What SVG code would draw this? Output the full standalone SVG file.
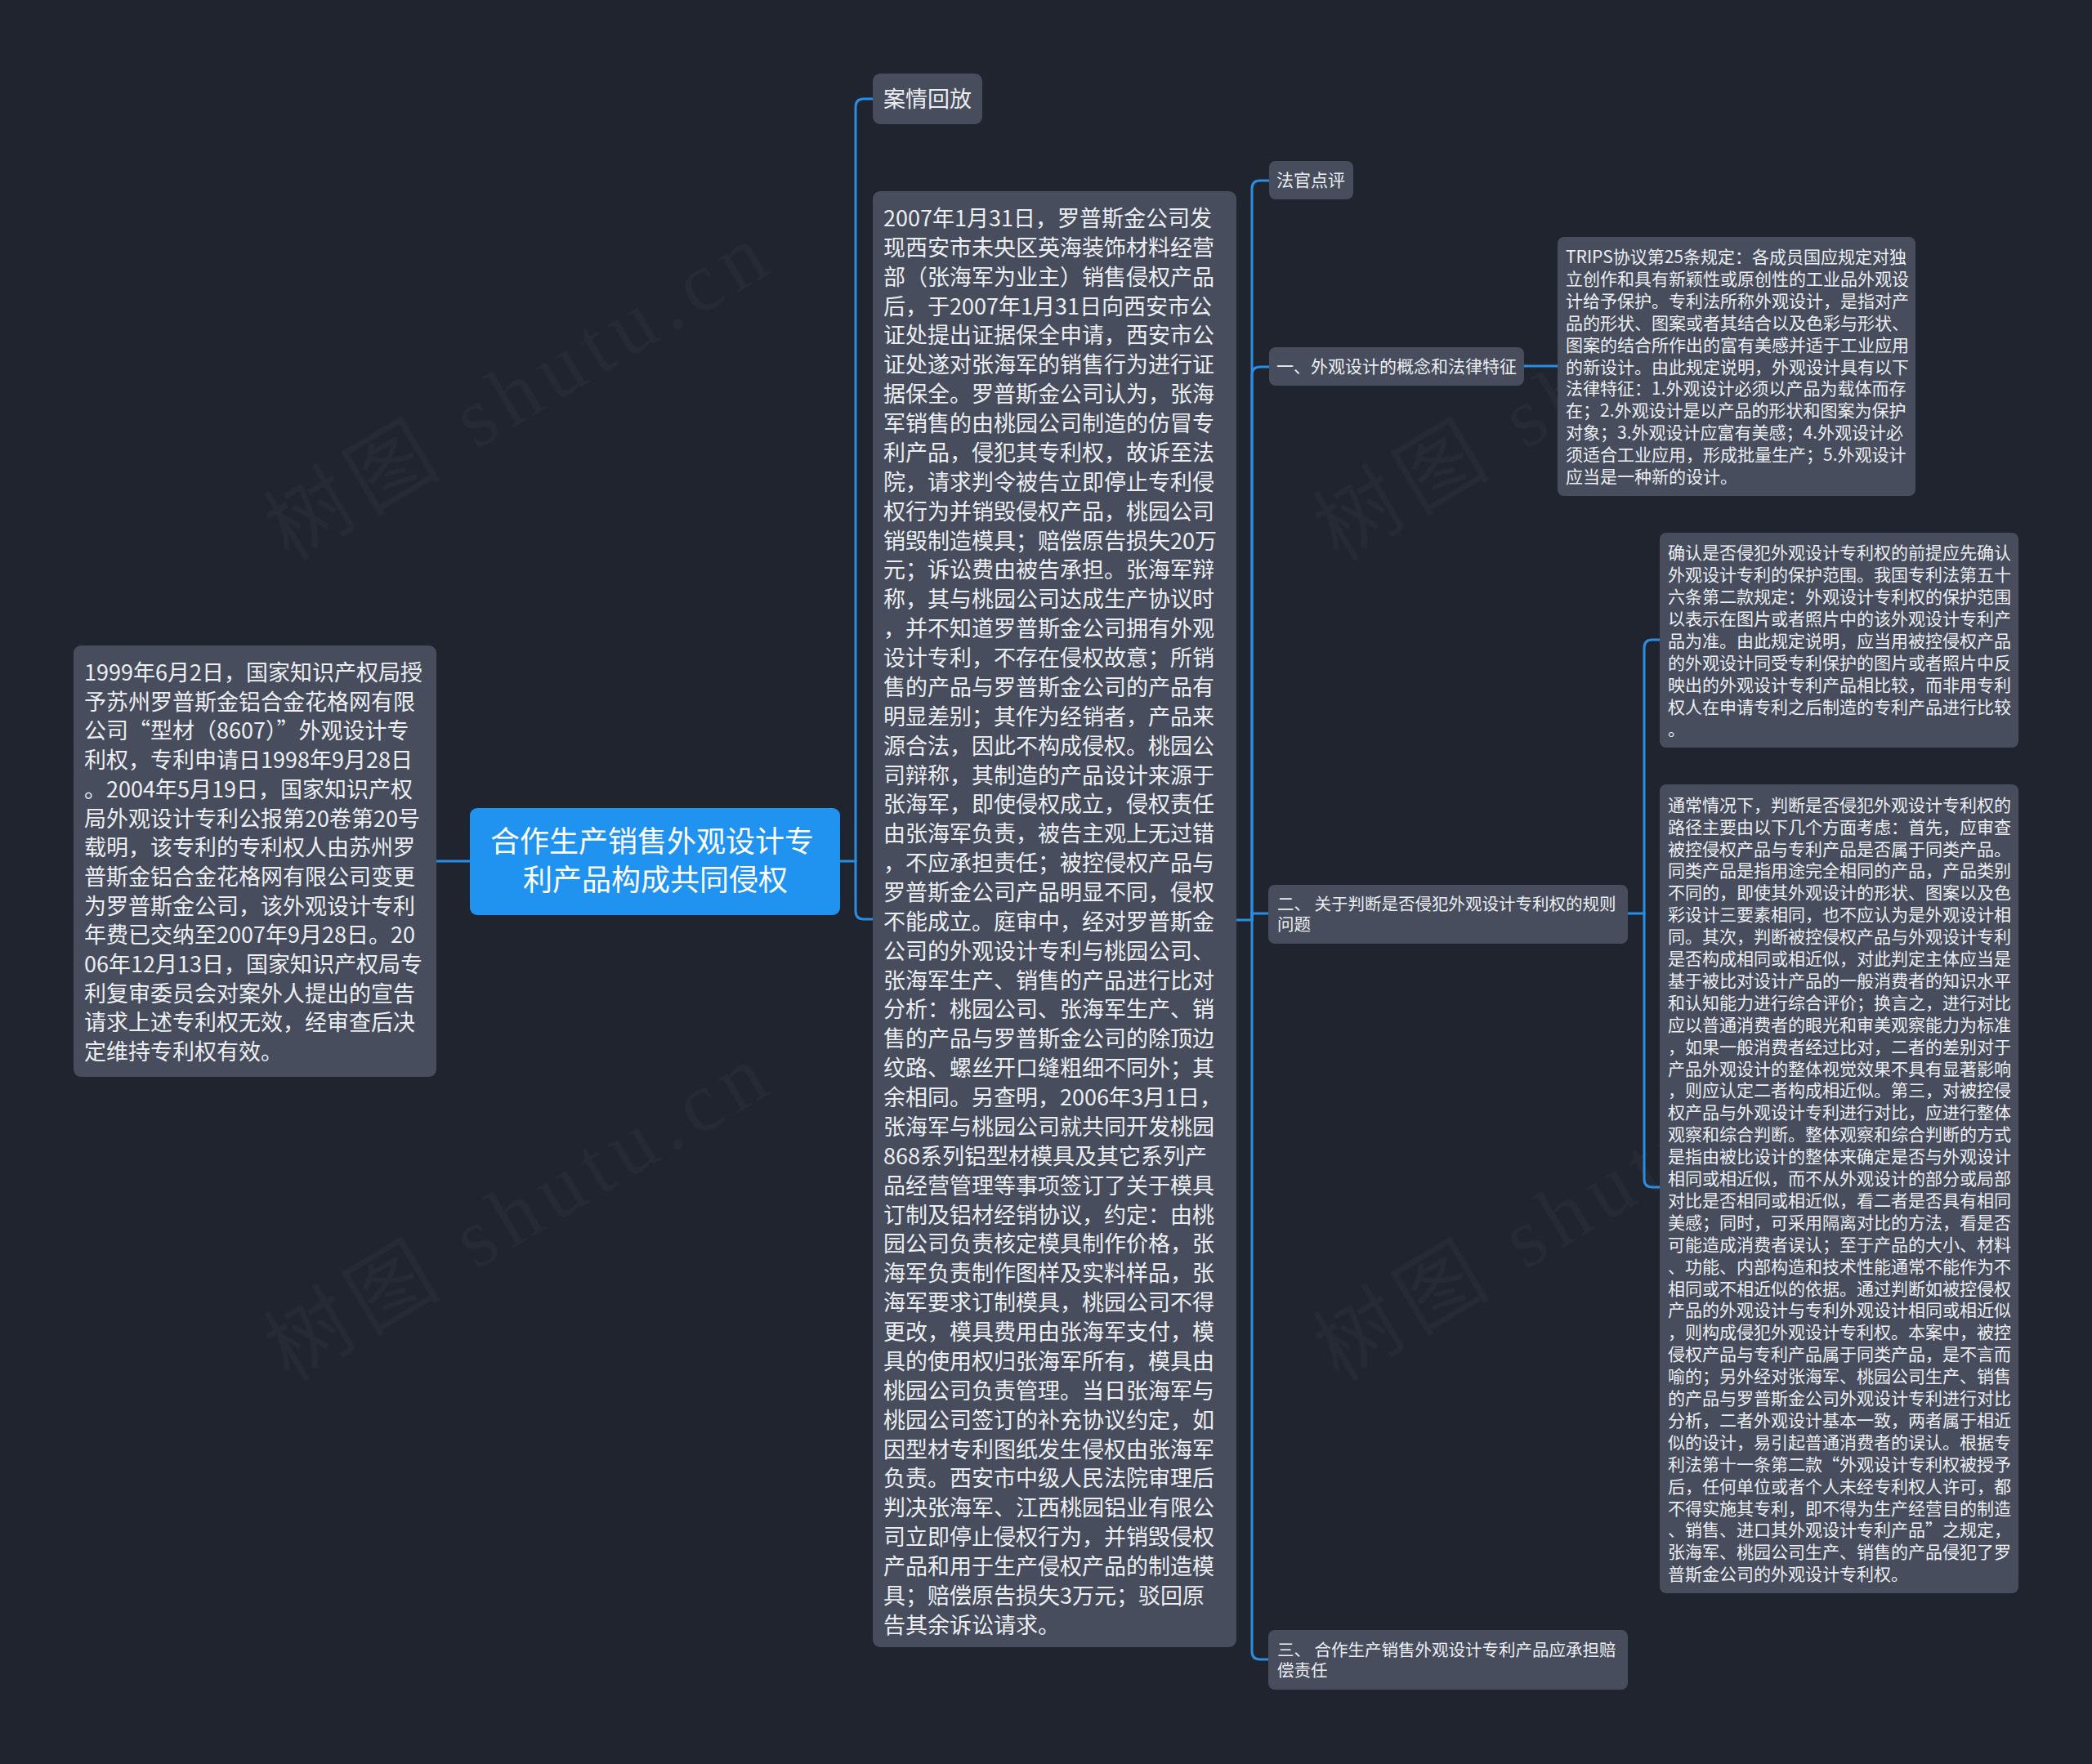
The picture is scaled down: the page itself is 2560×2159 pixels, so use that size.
<svg xmlns="http://www.w3.org/2000/svg" width="2560" height="2159" viewBox="0 0 2560 2159">
<style>
.bg{fill:#20242f}
.node{fill:#474d5c}
.root{fill:#1f93ef}
.t{font-family:"Noto Sans CJK SC","Noto Sans",sans-serif;fill:#eceef2}
.t27{font-size:27px}
.t21{font-size:21px}
.t20{font-size:20.5px}
.rt{font-family:"Noto Sans CJK SC","Noto Sans",sans-serif;fill:#ffffff;font-size:36px}
.wm{font-family:"Liberation Serif","Noto Sans CJK SC",serif;font-size:104px;fill:#ffffff;fill-opacity:0.028}
.c{fill:none;stroke:#2b8de2;stroke-width:3;stroke-linecap:round}
</style>
<rect class="bg" x="0" y="0" width="2560" height="2159"/>
<g id="watermark">
<text class="wm" transform="translate(354 688) rotate(-31)" textLength="690">树图 shutu.cn</text>
<text class="wm" transform="translate(354 1692) rotate(-31)" textLength="690">树图 shutu.cn</text>
<text class="wm" transform="translate(1638 688) rotate(-31)" textLength="690">树图 shutu.cn</text>
<text class="wm" transform="translate(1638 1692) rotate(-31)" textLength="690">树图 shutu.cn</text>
</g>
<g id="connectors">
<path class="c" d="M534 1054 H575"/>
<path class="c" d="M1028 1054 H1047"/>
<path class="c" d="M1047 1054 V131 Q1047 121 1057 121 H1068"/>
<path class="c" d="M1047 1054 V1115 Q1047 1125 1057 1125 H1068"/>
<path class="c" d="M1513 1126 H1532"/>
<path class="c" d="M1532 1126 V231 Q1532 221 1542 221 H1553"/>
<path class="c" d="M1532 1126 V459 Q1532 449 1542 449 H1553"/>
<path class="c" d="M1532 1126 V1118 H1552"/>
<path class="c" d="M1532 1126 V2021 Q1532 2031 1542 2031 H1552"/>
<path class="c" d="M1865 448 H1906"/>
<path class="c" d="M1992 1118 H2012"/>
<path class="c" d="M2012 1118 V793 Q2012 783 2022 783 H2031"/>
<path class="c" d="M2012 1118 V1443 Q2012 1453 2022 1453 H2031"/>
</g>
<g id="n-left">
<rect class="node" x="90" y="790" width="444" height="528" rx="9"/>
<text class="t t27">
<tspan x="103" y="833">1999年6月2日，国家知识产权局授</tspan>
<tspan x="103" y="868.7">予苏州罗普斯金铝合金花格网有限</tspan>
<tspan x="103" y="904.4">公司“型材（8607）”外观设计专</tspan>
<tspan x="103" y="940.1">利权，专利申请日1998年9月28日</tspan>
<tspan x="103" y="975.8">。2004年5月19日，国家知识产权</tspan>
<tspan x="103" y="1011.5">局外观设计专利公报第20卷第20号</tspan>
<tspan x="103" y="1047.2">载明，该专利的专利权人由苏州罗</tspan>
<tspan x="103" y="1082.9">普斯金铝合金花格网有限公司变更</tspan>
<tspan x="103" y="1118.6">为罗普斯金公司，该外观设计专利</tspan>
<tspan x="103" y="1154.3">年费已交纳至2007年9月28日。20</tspan>
<tspan x="103" y="1190">06年12月13日，国家知识产权局专</tspan>
<tspan x="103" y="1225.7">利复审委员会对案外人提出的宣告</tspan>
<tspan x="103" y="1261.4">请求上述专利权无效，经审查后决</tspan>
<tspan x="103" y="1297.1">定维持专利权有效。</tspan>
</text>
</g>
<g id="n-root">
<rect class="root" x="575" y="989" width="453" height="131" rx="9"/>
<text class="rt" text-anchor="middle">
<tspan x="802" y="1043">合作生产销售外观设计专</tspan>
<tspan x="802" y="1090">利产品构成共同侵权</tspan>
</text>
</g>
<g id="n-anqing">
<rect class="node" x="1068" y="90" width="134" height="62" rx="9"/>
<text class="t t27" x="1081" y="131">案情回放</text>
</g>
<g id="n-case">
<rect class="node" x="1068" y="234" width="445" height="1782" rx="9"/>
<text class="t t27">
<tspan x="1081" y="277">2007年1月31日，罗普斯金公司发</tspan>
<tspan x="1081" y="312.87">现西安市未央区英海装饰材料经营</tspan>
<tspan x="1081" y="348.74">部（张海军为业主）销售侵权产品</tspan>
<tspan x="1081" y="384.61">后，于2007年1月31日向西安市公</tspan>
<tspan x="1081" y="420.48">证处提出证据保全申请，西安市公</tspan>
<tspan x="1081" y="456.35">证处遂对张海军的销售行为进行证</tspan>
<tspan x="1081" y="492.22">据保全。罗普斯金公司认为，张海</tspan>
<tspan x="1081" y="528.09">军销售的由桃园公司制造的仿冒专</tspan>
<tspan x="1081" y="563.96">利产品，侵犯其专利权，故诉至法</tspan>
<tspan x="1081" y="599.83">院，请求判令被告立即停止专利侵</tspan>
<tspan x="1081" y="635.7">权行为并销毁侵权产品，桃园公司</tspan>
<tspan x="1081" y="671.57">销毁制造模具；赔偿原告损失20万</tspan>
<tspan x="1081" y="707.44">元；诉讼费由被告承担。张海军辩</tspan>
<tspan x="1081" y="743.31">称，其与桃园公司达成生产协议时</tspan>
<tspan x="1081" y="779.18">，并不知道罗普斯金公司拥有外观</tspan>
<tspan x="1081" y="815.05">设计专利，不存在侵权故意；所销</tspan>
<tspan x="1081" y="850.92">售的产品与罗普斯金公司的产品有</tspan>
<tspan x="1081" y="886.79">明显差别；其作为经销者，产品来</tspan>
<tspan x="1081" y="922.66">源合法，因此不构成侵权。桃园公</tspan>
<tspan x="1081" y="958.53">司辩称，其制造的产品设计来源于</tspan>
<tspan x="1081" y="994.4">张海军，即使侵权成立，侵权责任</tspan>
<tspan x="1081" y="1030.27">由张海军负责，被告主观上无过错</tspan>
<tspan x="1081" y="1066.14">，不应承担责任；被控侵权产品与</tspan>
<tspan x="1081" y="1102.01">罗普斯金公司产品明显不同，侵权</tspan>
<tspan x="1081" y="1137.88">不能成立。庭审中，经对罗普斯金</tspan>
<tspan x="1081" y="1173.75">公司的外观设计专利与桃园公司、</tspan>
<tspan x="1081" y="1209.62">张海军生产、销售的产品进行比对</tspan>
<tspan x="1081" y="1245.49">分析：桃园公司、张海军生产、销</tspan>
<tspan x="1081" y="1281.36">售的产品与罗普斯金公司的除顶边</tspan>
<tspan x="1081" y="1317.23">纹路、螺丝开口缝粗细不同外；其</tspan>
<tspan x="1081" y="1353.1">余相同。另查明，2006年3月1日，</tspan>
<tspan x="1081" y="1388.97">张海军与桃园公司就共同开发桃园</tspan>
<tspan x="1081" y="1424.84">868系列铝型材模具及其它系列产</tspan>
<tspan x="1081" y="1460.71">品经营管理等事项签订了关于模具</tspan>
<tspan x="1081" y="1496.58">订制及铝材经销协议，约定：由桃</tspan>
<tspan x="1081" y="1532.45">园公司负责核定模具制作价格，张</tspan>
<tspan x="1081" y="1568.32">海军负责制作图样及实料样品，张</tspan>
<tspan x="1081" y="1604.19">海军要求订制模具，桃园公司不得</tspan>
<tspan x="1081" y="1640.06">更改，模具费用由张海军支付，模</tspan>
<tspan x="1081" y="1675.93">具的使用权归张海军所有，模具由</tspan>
<tspan x="1081" y="1711.8">桃园公司负责管理。当日张海军与</tspan>
<tspan x="1081" y="1747.67">桃园公司签订的补充协议约定，如</tspan>
<tspan x="1081" y="1783.54">因型材专利图纸发生侵权由张海军</tspan>
<tspan x="1081" y="1819.41">负责。西安市中级人民法院审理后</tspan>
<tspan x="1081" y="1855.28">判决张海军、江西桃园铝业有限公</tspan>
<tspan x="1081" y="1891.15">司立即停止侵权行为，并销毁侵权</tspan>
<tspan x="1081" y="1927.02">产品和用于生产侵权产品的制造模</tspan>
<tspan x="1081" y="1962.89">具；赔偿原告损失3万元；驳回原</tspan>
<tspan x="1081" y="1998.76">告其余诉讼请求。</tspan>
</text>
</g>
<g id="n-faguan">
<rect class="node" x="1553" y="197" width="103" height="47" rx="8"/>
<text class="t t21" x="1562" y="228">法官点评</text>
</g>
<g id="n-one">
<rect class="node" x="1553" y="425" width="312" height="47" rx="8"/>
<text class="t t21" x="1562" y="456">一、外观设计的概念和法律特征</text>
</g>
<g id="n-trips">
<rect class="node" x="1906" y="290" width="438" height="317" rx="8"/>
<text class="t t21">
<tspan x="1916" y="322">TRIPS协议第25条规定：各成员国应规定对独</tspan>
<tspan x="1916" y="348.9">立创作和具有新颖性或原创性的工业品外观设</tspan>
<tspan x="1916" y="375.8">计给予保护。专利法所称外观设计，是指对产</tspan>
<tspan x="1916" y="402.7">品的形状、图案或者其结合以及色彩与形状、</tspan>
<tspan x="1916" y="429.6">图案的结合所作出的富有美感并适于工业应用</tspan>
<tspan x="1916" y="456.5">的新设计。由此规定说明，外观设计具有以下</tspan>
<tspan x="1916" y="483.4">法律特征：1.外观设计必须以产品为载体而存</tspan>
<tspan x="1916" y="510.3">在；2.外观设计是以产品的形状和图案为保护</tspan>
<tspan x="1916" y="537.2">对象；3.外观设计应富有美感；4.外观设计必</tspan>
<tspan x="1916" y="564.1">须适合工业应用，形成批量生产；5.外观设计</tspan>
<tspan x="1916" y="591">应当是一种新的设计。</tspan>
</text>
</g>
<g id="n-two">
<rect class="node" x="1552" y="1083" width="440" height="72" rx="8"/>
<text class="t t20">
<tspan x="1563" y="1114">二、 关于判断是否侵犯外观设计专利权的规则</tspan>
<tspan x="1563" y="1139">问题</tspan>
</text>
</g>
<g id="n-queren">
<rect class="node" x="2031" y="652" width="439" height="263" rx="8"/>
<text class="t t21">
<tspan x="2041" y="684.3">确认是否侵犯外观设计专利权的前提应先确认</tspan>
<tspan x="2041" y="711.2">外观设计专利的保护范围。我国专利法第五十</tspan>
<tspan x="2041" y="738.1">六条第二款规定：外观设计专利权的保护范围</tspan>
<tspan x="2041" y="765">以表示在图片或者照片中的该外观设计专利产</tspan>
<tspan x="2041" y="791.9">品为准。由此规定说明，应当用被控侵权产品</tspan>
<tspan x="2041" y="818.8">的外观设计同受专利保护的图片或者照片中反</tspan>
<tspan x="2041" y="845.7">映出的外观设计专利产品相比较，而非用专利</tspan>
<tspan x="2041" y="872.6">权人在申请专利之后制造的专利产品进行比较</tspan>
<tspan x="2041" y="899.5">。</tspan>
</text>
</g>
<g id="n-tongchang">
<rect class="node" x="2031" y="960" width="439" height="990" rx="8"/>
<text class="t t21">
<tspan x="2041" y="992.7">通常情况下，判断是否侵犯外观设计专利权的</tspan>
<tspan x="2041" y="1019.6">路径主要由以下几个方面考虑：首先，应审查</tspan>
<tspan x="2041" y="1046.5">被控侵权产品与专利产品是否属于同类产品。</tspan>
<tspan x="2041" y="1073.4">同类产品是指用途完全相同的产品，产品类别</tspan>
<tspan x="2041" y="1100.3">不同的，即使其外观设计的形状、图案以及色</tspan>
<tspan x="2041" y="1127.2">彩设计三要素相同，也不应认为是外观设计相</tspan>
<tspan x="2041" y="1154.1">同。其次，判断被控侵权产品与外观设计专利</tspan>
<tspan x="2041" y="1181">是否构成相同或相近似，对此判定主体应当是</tspan>
<tspan x="2041" y="1207.9">基于被比对设计产品的一般消费者的知识水平</tspan>
<tspan x="2041" y="1234.8">和认知能力进行综合评价；换言之，进行对比</tspan>
<tspan x="2041" y="1261.7">应以普通消费者的眼光和审美观察能力为标准</tspan>
<tspan x="2041" y="1288.6">，如果一般消费者经过比对，二者的差别对于</tspan>
<tspan x="2041" y="1315.5">产品外观设计的整体视觉效果不具有显著影响</tspan>
<tspan x="2041" y="1342.4">，则应认定二者构成相近似。第三，对被控侵</tspan>
<tspan x="2041" y="1369.3">权产品与外观设计专利进行对比，应进行整体</tspan>
<tspan x="2041" y="1396.2">观察和综合判断。整体观察和综合判断的方式</tspan>
<tspan x="2041" y="1423.1">是指由被比设计的整体来确定是否与外观设计</tspan>
<tspan x="2041" y="1450">相同或相近似，而不从外观设计的部分或局部</tspan>
<tspan x="2041" y="1476.9">对比是否相同或相近似，看二者是否具有相同</tspan>
<tspan x="2041" y="1503.8">美感；同时，可采用隔离对比的方法，看是否</tspan>
<tspan x="2041" y="1530.7">可能造成消费者误认；至于产品的大小、材料</tspan>
<tspan x="2041" y="1557.6">、功能、内部构造和技术性能通常不能作为不</tspan>
<tspan x="2041" y="1584.5">相同或不相近似的依据。通过判断如被控侵权</tspan>
<tspan x="2041" y="1611.4">产品的外观设计与专利外观设计相同或相近似</tspan>
<tspan x="2041" y="1638.3">，则构成侵犯外观设计专利权。本案中，被控</tspan>
<tspan x="2041" y="1665.2">侵权产品与专利产品属于同类产品，是不言而</tspan>
<tspan x="2041" y="1692.1">喻的；另外经对张海军、桃园公司生产、销售</tspan>
<tspan x="2041" y="1719">的产品与罗普斯金公司外观设计专利进行对比</tspan>
<tspan x="2041" y="1745.9">分析，二者外观设计基本一致，两者属于相近</tspan>
<tspan x="2041" y="1772.8">似的设计，易引起普通消费者的误认。根据专</tspan>
<tspan x="2041" y="1799.7">利法第十一条第二款“外观设计专利权被授予</tspan>
<tspan x="2041" y="1826.6">后，任何单位或者个人未经专利权人许可，都</tspan>
<tspan x="2041" y="1853.5">不得实施其专利，即不得为生产经营目的制造</tspan>
<tspan x="2041" y="1880.4">、销售、进口其外观设计专利产品”之规定，</tspan>
<tspan x="2041" y="1907.3">张海军、桃园公司生产、销售的产品侵犯了罗</tspan>
<tspan x="2041" y="1934.2">普斯金公司的外观设计专利权。</tspan>
</text>
</g>
<g id="n-three">
<rect class="node" x="1552" y="1995" width="440" height="73" rx="8"/>
<text class="t t20">
<tspan x="1563" y="2027">三、 合作生产销售外观设计专利产品应承担赔</tspan>
<tspan x="1563" y="2052">偿责任</tspan>
</text>
</g>
</svg>
